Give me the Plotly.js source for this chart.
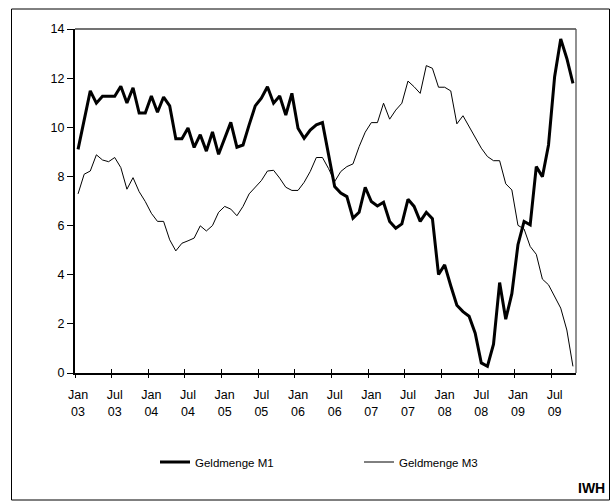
<!DOCTYPE html>
<html><head><meta charset="utf-8">
<script src="https://cdn.plot.ly/plotly-3.0.1.min.js"></script>
<style>html,body{margin:0;padding:0;background:#fff;} #chart{width:611px;height:502px;}</style>
</head><body><div id="chart"></div>
<script>
const months = [
 "2003-01","2003-02","2003-03","2003-04","2003-05","2003-06","2003-07","2003-08","2003-09","2003-10","2003-11","2003-12",
 "2004-01","2004-02","2004-03","2004-04","2004-05","2004-06","2004-07","2004-08","2004-09","2004-10","2004-11","2004-12",
 "2005-01","2005-02","2005-03","2005-04","2005-05","2005-06","2005-07","2005-08","2005-09","2005-10","2005-11","2005-12",
 "2006-01","2006-02","2006-03","2006-04","2006-05","2006-06","2006-07","2006-08","2006-09","2006-10","2006-11","2006-12",
 "2007-01","2007-02","2007-03","2007-04","2007-05","2007-06","2007-07","2007-08","2007-09","2007-10","2007-11","2007-12",
 "2008-01","2008-02","2008-03","2008-04","2008-05","2008-06","2008-07","2008-08","2008-09","2008-10","2008-11","2008-12",
 "2009-01","2009-02","2009-03","2009-04","2009-05","2009-06","2009-07","2009-08","2009-09","2009-10"
];
const m1 = [
 9.10,10.30,11.48,10.98,11.26,11.26,11.26,11.67,10.99,11.61,10.58,10.58,
 11.27,10.61,11.23,10.87,9.53,9.53,9.97,9.18,9.70,9.03,9.81,8.90,
 9.53,10.20,9.19,9.28,10.10,10.87,11.18,11.65,10.98,11.27,10.50,11.38,
 9.96,9.55,9.89,10.10,10.19,8.90,7.59,7.32,7.18,6.30,6.54,7.56,
 6.98,6.80,6.95,6.17,5.89,6.07,7.07,6.78,6.17,6.54,6.28,4.01,
 4.40,3.55,2.76,2.50,2.31,1.62,0.41,0.27,1.17,3.68,2.19,3.23,
 5.22,6.17,6.03,8.40,7.99,9.28,12.06,13.59,12.80,11.79
];
const m3 = [
 7.29,8.09,8.22,8.88,8.67,8.60,8.77,8.36,7.48,7.95,7.38,6.98,
 6.50,6.17,6.17,5.42,4.97,5.28,5.38,5.49,5.99,5.78,6.00,6.54,
 6.78,6.67,6.40,6.78,7.29,7.56,7.83,8.22,8.25,7.93,7.56,7.43,
 7.43,7.76,8.20,8.77,8.77,8.32,7.79,8.20,8.40,8.51,9.21,9.80,
 10.19,10.19,10.98,10.33,10.70,10.98,11.88,11.65,11.38,12.51,12.40,11.63,
 11.63,11.48,10.14,10.47,10.03,9.62,9.15,8.81,8.64,8.64,7.70,7.45,
 6.01,5.86,5.15,4.83,3.82,3.59,3.12,2.64,1.75,0.27
];
const tickMonth = ["Jan","Jul","Jan","Jul","Jan","Jul","Jan","Jul","Jan","Jul","Jan","Jul","Jan","Jul"];
const tickYear  = ["03","03","04","04","05","05","06","06","07","07","08","08","09","09"];
const seriesNames = ["Geldmenge M1","Geldmenge M3"];

const W = 611, H = 502, L = 75, R = 35, T = 29, B = 129;
const pw = W - L - R, ph = H - T - B;
const pxX = v => (v - L) / pw;
const pxY = v => (H - B - v) / ph;

const idx = months.map((_, i) => i);
const labelIdx = tickMonth.map((_, k) => k * 6);
const bounds = tickMonth.map((_, k) => k * 6 - 0.5);
const xr = [-0.5, months.length - 0.5];
const font = {family: "Liberation Sans, Arial, sans-serif", size: 12.5, color: "#000"};

const traces = [
  {x: idx, y: m1, name: seriesNames[0], mode: "lines", line: {color: "#000", width: 3}, hoverinfo: "skip"},
  {x: idx, y: m3, name: seriesNames[1], mode: "lines", line: {color: "#000", width: 1}, hoverinfo: "skip"},
  {x: [], y: [], xaxis: "x2", showlegend: false, hoverinfo: "skip"},
  {x: [], y: [], xaxis: "x3", showlegend: false, hoverinfo: "skip"},
  {x: [], y: [], xaxis: "x4", showlegend: false, hoverinfo: "skip"}
];

const baseX = {range: xr, showgrid: false, zeroline: false, fixedrange: true};
const layout = {
  width: W, height: H,
  margin: {l: L, r: R, t: T, b: B, pad: 0},
  paper_bgcolor: "#fff", plot_bgcolor: "#fff",
  font: font,
  showlegend: true,
  legend: {orientation: "h", x: pxX(155), xanchor: "left", y: pxY(462), yanchor: "middle",
           entrywidth: 159, entrywidthmode: "pixels",
           font: {family: font.family, size: 11.5, color: "#000"}, bgcolor: "rgba(0,0,0,0)"},
  xaxis: Object.assign({}, baseX, {tickmode: "array", tickvals: labelIdx, ticktext: tickMonth, ticks: "",
           showline: true, linecolor: "#000", linewidth: 2, tickfont: font, ticklabelstandoff: 9}),
  xaxis2: Object.assign({}, baseX, {overlaying: "x", anchor: "y", side: "bottom", tickmode: "array", tickvals: labelIdx,
           ticktext: tickYear, ticks: "", showline: false, tickfont: font, ticklabelstandoff: 29}),
  xaxis3: Object.assign({}, baseX, {overlaying: "x", anchor: "y", side: "bottom", tickmode: "array", tickvals: bounds,
           ticks: "outside", ticklen: 4, tickwidth: 1, tickcolor: "#000", showticklabels: false, showline: false}),
  xaxis4: Object.assign({}, baseX, {overlaying: "x", anchor: "y", side: "bottom", tickmode: "array", tickvals: bounds,
           ticks: "inside", ticklen: 4, tickwidth: 1, tickcolor: "#000", showticklabels: false, showline: false}),
  yaxis: {range: [0, 14], tickmode: "array", tickvals: [0,2,4,6,8,10,12,14], ticks: "outside", ticklen: 6,
          tickwidth: 1, tickcolor: "#000", showline: true, linecolor: "#000", linewidth: 2, showgrid: false,
          zeroline: false, tickfont: font, fixedrange: true},
  shapes: [
    {type: "line", xref: "paper", yref: "paper", x0: 0, x1: 1, y0: 1, y1: 1, line: {color: "#444", width: 1.3}},
    {type: "line", xref: "paper", yref: "paper", x0: 1, x1: 1, y0: 0, y1: 1, line: {color: "#555", width: 1.3}},
    {type: "rect", xref: "paper", yref: "paper", x0: pxX(11.5), x1: pxX(609.5), y0: pxY(500), y1: pxY(9),
     line: {color: "#000", width: 1}, fillcolor: "rgba(0,0,0,0)", layer: "below"}
  ],
  annotations: [
    {text: "<b>IWH</b>", xref: "paper", yref: "paper", x: pxX(607), y: pxY(488), xanchor: "right", yanchor: "middle",
     showarrow: false, font: {family: font.family, size: 14, color: "#000"}}
  ]
};
Plotly.newPlot("chart", traces, layout, {displayModeBar: false, staticPlot: true});
</script>
</body></html>
